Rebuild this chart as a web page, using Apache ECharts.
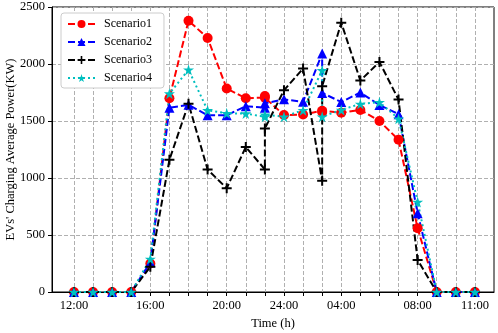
<!DOCTYPE html>
<html>
<head>
<meta charset="utf-8">
<script src="https://cdn.jsdelivr.net/npm/echarts@6/dist/echarts.min.js"></script>
<style>
  html, body { margin: 0; padding: 0; background: #fff; }
  #chart { width: 498px; height: 333px; }
</style>
</head>
<body>
<div id="chart"></div>
<script>
// x position of each hourly sample (two pairs share a slot, as in the source figure)
const xPos = [0, 1, 2, 3, 4, 5, 6, 7, 8, 9, 10, 10, 11, 12, 13, 13, 14, 15, 16, 17, 18, 19, 20, 21]

const tickPos = [0, 4, 8, 11, 14, 18, 21]
const tickLabels = ['12:00', '16:00', '20:00', '24:00', '04:00', '08:00', '11:00']

const scenario1 = [0, 0, 0, 0, 250, 1700, 2380, 2228, 1785, 1700, 1705, 1720, 1552, 1557, 1590, 1580, 1572, 1597, 1500, 1335, 560, 0, 0, 0]
const scenario2 = [0, 0, 0, 0, 260, 1617, 1642, 1550, 1550, 1630, 1617, 1655, 1690, 1668, 2092, 1746, 1667, 1750, 1640, 1560, 690, 0, 0, 0]
const scenario3 = [0, 0, 0, 0, 222, 1160, 1652, 1074, 910, 1272, 1075, 1435, 1770, 1960, 975, 1805, 2362, 1855, 2018, 1688, 280, 0, 0, 0]
const scenario4 = [0, 0, 0, 0, 290, 1740, 1950, 1594, 1568, 1565, 1537, 1555, 1538, 1595, 1945, 1538, 1597, 1650, 1665, 1520, 790, 0, 0, 0]

const names = ['Scenario1', 'Scenario2', 'Scenario3', 'Scenario4']

const serif = '"Liberation Serif", "Times New Roman", serif'
const plus = 'path://M4,0h2v4h4v2h-4v4h-2v-4h-4v-2h4z'
const star = 'path://M50,0L61,35L98,35L68,57L79,91L50,70L21,91L32,57L2,35L39,35Z'

const styles = [
  { color: '#ff0000', symbol: 'circle', size: 10, dash: [7, 3] },
  { color: '#0000ff', symbol: 'triangle', size: 10, dash: [7, 3] },
  { color: '#000000', symbol: plus, size: 10, dash: [7, 3] },
  { color: '#00bfbf', symbol: star, size: 11, dash: [2, 3] },
]

const pairs = ys => ys.map((y, i) => [xPos[i], y])

const chart = echarts.init(document.getElementById('chart'))

chart.setOption({
  animation: false,
  grid: {
    left: 52,
    right: 4,
    top: 7,
    bottom: 41,
    outerBoundsMode: 'none',
    containLabel: false,
    show: true,
    borderColor: '#000',
    borderWidth: 1,
  },
  legend: {
    orient: 'vertical',
    left: 61,
    top: 13,
    itemWidth: 27,
    itemHeight: 10,
    itemGap: 6,
    padding: [5, 12, 4, 6],
    backgroundColor: '#fff',
    borderColor: '#cccccc',
    borderWidth: 1,
    borderRadius: 3,
    textStyle: { fontFamily: serif, fontSize: 12, color: '#000', padding: [0, 0, 0, 4] },
    data: names,
  },
  xAxis: {
    type: 'value',
    min: -1.15,
    max: 22,
    name: 'Time (h)',
    nameLocation: 'middle',
    nameGap: 25,
    nameTextStyle: { fontFamily: serif, fontSize: 12.5, color: '#000' },
    axisLine: { onZero: false, lineStyle: { color: '#000', width: 1 } },
    axisTick: {
      inside: false,
      length: 4,
      lineStyle: { color: '#000' },
      customValues: xPos.filter((v, i) => xPos.indexOf(v) === i),
    },
    axisLabel: {
      margin: 7,
      fontFamily: serif,
      fontSize: 12.5,
      color: '#000',
      customValues: tickPos,
      formatter: v => tickLabels[tickPos.indexOf(Math.round(v))] || '',
    },
    splitLine: {
      show: true,
      lineStyle: { color: '#b0b0b0', type: [4, 2], width: 1 },
    },
  },
  yAxis: {
    type: 'value',
    min: 0,
    max: 2500,
    interval: 500,
    name: "EVs' Charging Average Power(KW)",
    nameLocation: 'middle',
    nameGap: 35,
    nameMoveOverlap: false,
    nameTextStyle: { fontFamily: serif, fontSize: 12.5, color: '#000' },
    axisLine: { show: true, onZero: false, lineStyle: { color: '#000', width: 1 } },
    axisTick: { show: true, inside: false, length: 4, lineStyle: { color: '#000' } },
    axisLabel: { margin: 7, fontFamily: serif, fontSize: 12.5, color: '#000', formatter: v => String(v) },
    splitLine: {
      show: true,
      lineStyle: { color: '#b0b0b0', type: [4, 2], width: 1 },
    },
  },
  series: [scenario1, scenario2, scenario3, scenario4].map((ys, k) => ({
    type: 'line',
    name: names[k],
    data: pairs(ys),
    symbol: styles[k].symbol,
    symbolSize: styles[k].size,
    showAllSymbol: true,
    lineStyle: { color: styles[k].color, width: 2, type: styles[k].dash },
    itemStyle: { color: styles[k].color },
    emphasis: { disabled: true },
  })),
})
</script>
</body>
</html>
